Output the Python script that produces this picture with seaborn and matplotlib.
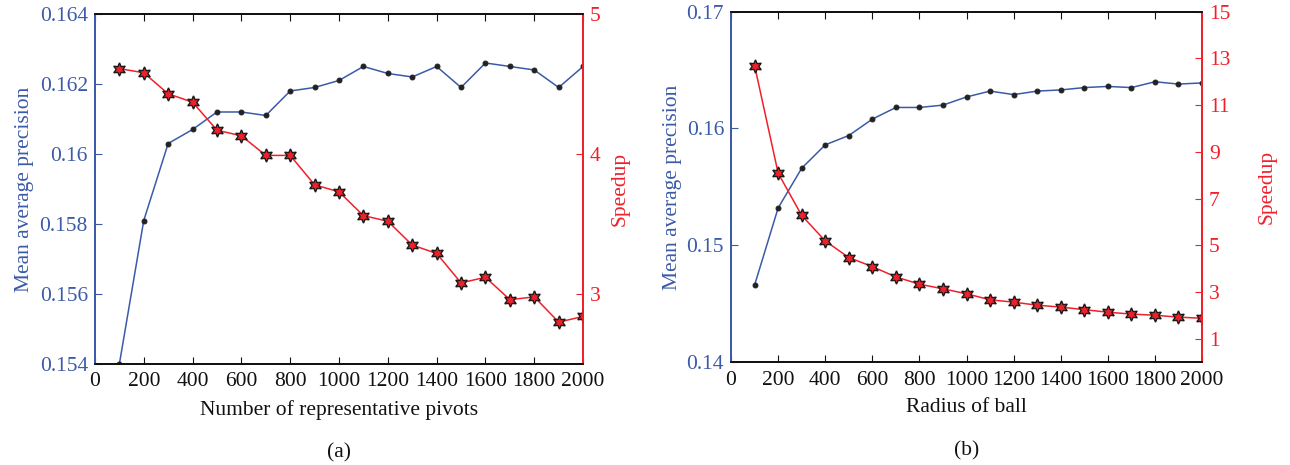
import numpy as np
import pandas as pd
import matplotlib
matplotlib.use("Agg")
import matplotlib.pyplot as plt
import seaborn as sns

# datos
x_vals = [100, 200, 300, 400, 500, 600, 700, 800, 900, 1000,
          1100, 1200, 1300, 1400, 1500, 1600, 1700, 1800, 1900, 2000]

map_pivots = [0.1540, 0.1581, 0.1603, 0.1607, 0.1612, 0.1612, 0.1611, 0.1618, 0.1619, 0.1621,
              0.1625, 0.1623, 0.1622, 0.1625, 0.1619, 0.1626, 0.1625, 0.1624, 0.1619, 0.1625]
speedup_pivots = [4.61, 4.58, 4.43, 4.37, 4.17, 4.13, 3.99, 3.99, 3.78, 3.73,
                  3.56, 3.52, 3.35, 3.29, 3.08, 3.12, 2.96, 2.98, 2.80, 2.84]

map_radius = [0.1466, 0.1532, 0.1566, 0.1586, 0.1594, 0.1608, 0.1618, 0.1618, 0.1620, 0.1627,
              0.1632, 0.1629, 0.1632, 0.1633, 0.1635, 0.1636, 0.1635, 0.1640, 0.1638, 0.1639]
speedup_radius = [12.69, 8.09, 6.28, 5.19, 4.48, 4.09, 3.65, 3.34, 3.14, 2.93,
                  2.67, 2.57, 2.44, 2.36, 2.25, 2.14, 2.06, 2.01, 1.93, 1.88]

xlabels = ["Number of representative pivots", "Radius of ball"]
subtitulos = ["(a)", "(b)"]

azul = "#3b5aa8"
rojo = "#f0202a"

sns.set_style("white")
plt.rcParams['font.family'] = ['Liberation Serif', 'DejaVu Serif']
plt.rcParams['font.size'] = 15

fig = plt.figure(figsize=(12.9, 4.65), dpi=100)
ax_a = fig.add_axes([0.0736, 0.217, 0.3784, 0.753])
ax_b = fig.add_axes([0.5667, 0.221, 0.3651, 0.754])

estrella = (6, 1, 0)


def graficar_panel(ax, mapv, speed, ylim_l, yticks_l, ylim_r, yticks_r, xlabel, sub, fmt_l, pad_l, pad_r):
    df = pd.DataFrame({'x': x_vals, 'map': mapv, 'speed': speed})
    sns.lineplot(data=df, x='x', y='map', ax=ax, color=azul, lw=1.1,
                 marker='o', markersize=3.5, markerfacecolor='#222222',
                 markeredgecolor='#222222')
    ax.set_xlim(0, 2000)
    ax.set_ylim(*ylim_l)
    ax.set_xticks(range(0, 2001, 200))
    ax.set_yticks(yticks_l)
    ax.set_yticklabels([fmt_l(v) for v in yticks_l])
    ax.set_xlabel(xlabel, fontsize=15.5, color='#111111', labelpad=6)
    ax.set_ylabel("Mean average precision", fontsize=15.5, color=azul, labelpad=pad_l)
    ax.tick_params(axis='x', direction='in', top=True, bottom=True, length=5,
                   colors='#111111', labelsize=15.5, pad=6)
    ax.tick_params(axis='y', direction='in', left=True, right=True, length=5,
                   colors=azul, labelsize=15.5, pad=5)

    ax2 = ax.twinx()
    sns.lineplot(data=df, x='x', y='speed', ax=ax2, color=rojo, lw=1.1,
                 marker=estrella, markersize=9.5, markerfacecolor=rojo,
                 markeredgecolor='#1a1a1a', markeredgewidth=1.0)
    ax2.set_ylim(*ylim_r)
    ax2.set_yticks(yticks_r)
    ax2.set_ylabel("Speedup", fontsize=15.5, color=rojo, labelpad=pad_r)
    ax2.tick_params(axis='y', direction='in', right=True, length=5,
                    colors=rojo, labelsize=15.5, pad=5)

    for a in (ax, ax2):
        a.spines['left'].set_color(azul)
        a.spines['right'].set_color(rojo)
        a.spines['top'].set_color('#111111')
        a.spines['bottom'].set_color('#111111')
        for s in a.spines.values():
            s.set_linewidth(1.3)
            s.set_visible(True)
    ax.text(0.5, -0.225, sub, transform=ax.transAxes, ha='center', va='top',
            fontsize=15.5, color='#111111')


graficar_panel(ax_a, map_pivots, speedup_pivots, (0.154, 0.164),
               [0.154, 0.156, 0.158, 0.160, 0.162, 0.164], (2.5, 5), [3, 4, 5],
               xlabels[0], subtitulos[0], lambda v: f"{v:.3f}".rstrip('0'), 4, 7)
graficar_panel(ax_b, map_radius, speedup_radius, (0.14, 0.17),
               [0.14, 0.15, 0.16, 0.17], (0, 15), list(range(1, 16, 2)),
               xlabels[1], subtitulos[1], lambda v: f"{v:.2f}", 3, 20)

fig.savefig("out.png", dpi=100)
